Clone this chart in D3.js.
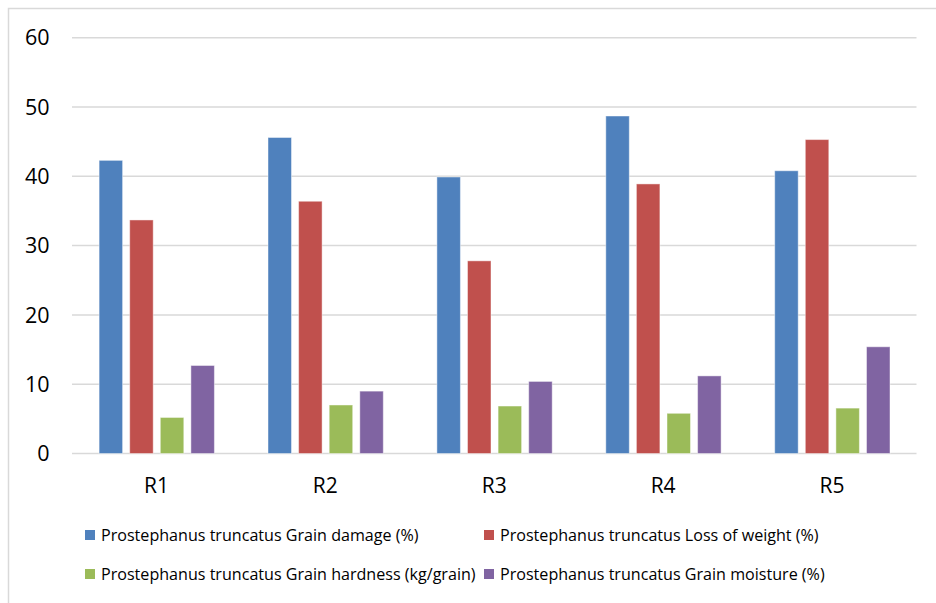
<!DOCTYPE html>
<html><head><meta charset="utf-8">
<script src="https://cdn.jsdelivr.net/npm/d3@7"></script>
<style>
html,body{margin:0;padding:0;background:#fff;}
text{font-family:"Open Sans",sans-serif;fill:#000;}
</style></head>
<body><svg id="chart" width="936" height="603"></svg>
<script>
const categories = ["R1","R2","R3","R4","R5"];
const seriesNames = [
  "Prostephanus truncatus Grain damage (%)",
  "Prostephanus truncatus Loss of weight (%)",
  "Prostephanus truncatus Grain hardness (kg/grain)",
  "Prostephanus truncatus Grain moisture (%)"
];
const grainDamage = [42.3, 45.6, 39.9, 48.7, 40.8];
const lossOfWeight = [33.7, 36.4, 27.8, 38.9, 45.3];
const grainHardness = [5.2, 7.0, 6.85, 5.8, 6.55];
const grainMoisture = [12.7, 9.0, 10.4, 11.2, 15.4];
const yTicks = [0, 10, 20, 30, 40, 50, 60];
const colors = ["#4F81BD", "#C0504D", "#9BBB59", "#8064A2"];

const seriesValues = [grainDamage, lossOfWeight, grainHardness, grainMoisture];
const svg = d3.select("#chart");

// chart border (right/bottom cut off)
svg.append("path").attr("d","M8.5,603 V8.5 H936").attr("fill","none").attr("stroke","#D9D9D9").attr("stroke-width",1.5);

const plotL = 72, plotR = 916.5;
const y = d3.scaleLinear().domain([0,60]).range([453.5, 37.7]);
const x = d3.scaleBand().domain(categories).range([plotL, plotR]);
const groupW = 115.3;
const inner = d3.scaleBand().domain(d3.range(4)).range([0, groupW]).paddingInner(0.232).paddingOuter(0);

// gridlines
svg.append("g").selectAll("line").data(yTicks).join("line")
  .attr("x1", plotL).attr("x2", plotR)
  .attr("y1", d => y(d)).attr("y2", d => y(d))
  .attr("stroke", "#D9D9D9").attr("stroke-width", 1.5);

// y labels
svg.append("g").selectAll("text").data(yTicks).join("text")
  .attr("x", 49.5).attr("y", d => y(d)).attr("dy","0.36em")
  .attr("text-anchor","end").style("font-size","21.5px").text(d => d);

// bars
categories.forEach((c, ci) => {
  const gx = x(c) + x.bandwidth()/2 - groupW/2 + 0.3;
  seriesValues.forEach((vals, si) => {
    svg.append("rect")
      .attr("x", gx + inner(si))
      .attr("y", y(vals[ci]))
      .attr("width", inner.bandwidth())
      .attr("height", y(0) - y(vals[ci]))
      .attr("fill", colors[si])
      .attr("stroke", "#ffffff").attr("stroke-opacity", 0.45).attr("stroke-width", 1);
  });
});

// x labels
svg.append("g").selectAll("text").data(categories).join("text")
  .attr("x", d => x(d) + x.bandwidth()/2).attr("y", 485).attr("dy","0.36em")
  .attr("text-anchor","middle").style("font-size","21px").text(d => d);

// legend
const legendPos = [[85,535],[484,535],[85,574],[484,574]];
seriesNames.forEach((n, i) => {
  const [lx, ly] = legendPos[i];
  svg.append("rect").attr("x", lx).attr("y", ly-5).attr("width",10).attr("height",10).attr("fill", colors[i]);
  svg.append("text").attr("x", lx+16).attr("y", ly).attr("dy","0.36em")
    .style("font-size","16.1px").text(n);
});
</script>
</body></html>
